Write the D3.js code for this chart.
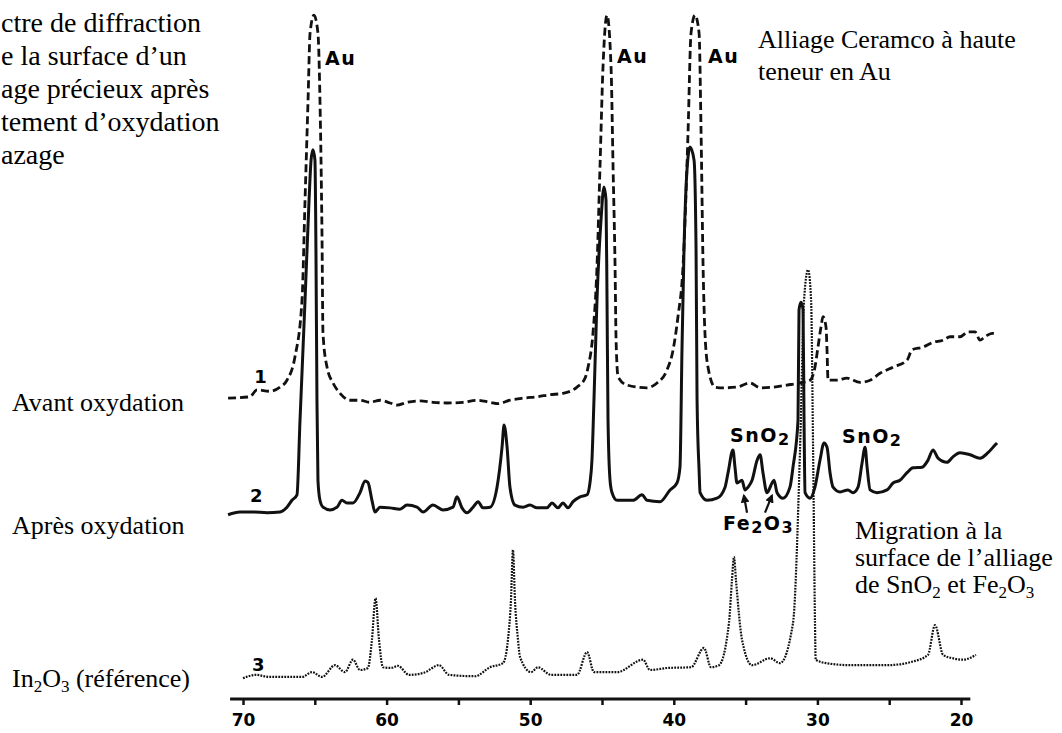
<html>
<head>
  <meta charset="utf-8">
  <style type="text/css">
    body { margin: 0; background: #fff; }
    svg { display: block; background: #fff; }
    .serif { font-family: 'Liberation Serif', 'Times New Roman', serif; fill: #000; }
    .lab { font-family: 'DejaVu Sans', sans-serif; font-weight: bold; fill: #000; }
  </style>
</head>
<body>
  <div id="viz"></div>
  <script src="https://cdnjs.cloudflare.com/ajax/libs/d3/7.8.5/d3.min.js"></script>
  <script>
  // 2theta (deg) / intensity (arbitrary units, traces stacked as in the figure)
  // 1 - avant oxydation (dashed)
  const avant = [
    [71.04,43.6],[69.51,43.8],[69.03,44.8],[68.12,44.6],[67.42,45.2],[66.94,46.2],[66.38,49.6],
    [65.89,57.8],[65.68,72.3],[65.47,86.8],[65.33,96.5],[65.06,99.1],[64.78,96.5],[64.64,86.8],
    [64.50,67.5],[64.43,53.0],[64.15,48.1],[63.73,45.8],[63.24,44.3],[62.55,43.3],[61.85,43.3],
    [61.16,43.0],[60.46,43.3],[59.76,42.9],[59.28,42.6],[58.58,43.0],[57.67,43.2],[56.77,43.0],
    [55.79,42.9],[54.68,43.0],[53.70,43.3],[52.80,43.0],[52.24,42.8],[51.41,43.3],[50.50,43.6],
    [49.53,43.8],[48.62,44.1],[47.72,44.3],[46.74,45.2],[46.18,46.5],[45.97,48.1],[45.63,53.0],
    [45.35,62.6],[45.14,77.1],[44.93,91.6],[44.65,99.1],[44.37,91.6],[44.23,77.1],[44.09,62.6],
    [44.02,52.0],[43.88,46.7],[43.26,45.5],[41.87,45.1],[41.17,45.8],[40.47,47.7],[40.05,50.6],
    [39.71,55.4],[39.36,62.6],[39.01,82.0],[38.80,96.5],[38.52,99.1],[38.24,96.5],[38.10,82.0],
    [37.96,62.6],[37.83,53.0],[37.62,48.1],[37.13,45.2],[36.57,45.1],[35.60,45.2],[34.69,45.8],
    [33.99,45.1],[33.09,45.2],[32.11,45.5],[31.21,45.8],[30.51,46.2],[30.17,48.1],[29.96,51.0],
    [29.75,53.9],[29.61,55.4],[29.40,53.9],[29.33,50.6],[29.26,46.2],[28.63,46.2],[27.94,46.5],
    [27.03,45.9],[26.33,46.2],[25.64,47.2],[24.73,48.1],[23.76,49.1],[23.41,50.6],[22.64,51.0],
    [21.95,51.7],[21.25,52.0],[20.76,52.5],[20.07,52.5],[19.51,53.2],[19.02,53.2],[18.68,52.0],
    [18.33,52.5],[17.84,53.0],[17.49,53.0]
  ];

  // 2 - après oxydation (solid)
  const apres = [
    [71.04,26.7],[70.21,27.1],[69.30,27.1],[68.33,27.0],[67.42,27.1],[66.94,27.8],[66.59,28.8],
    [66.24,29.6],[66.03,40.4],[65.68,57.8],[65.40,72.3],[65.26,78.1],[65.13,79.6],[64.99,78.1],
    [64.92,65.1],[64.85,43.3],[64.78,31.7],[64.64,28.8],[64.43,27.8],[63.94,27.4],[63.45,27.8],
    [63.11,28.8],[62.76,28.4],[62.34,28.4],[61.85,29.9],[61.50,31.6],[61.30,31.4],[61.02,28.8],
    [60.81,27.1],[60.46,27.8],[59.76,27.7],[59.07,27.5],[58.58,28.1],[57.88,27.8],[57.46,27.1],
    [56.77,28.1],[56.07,27.4],[55.38,27.8],[55.10,29.3],[54.75,27.7],[54.40,27.0],[53.98,27.8],
    [53.63,28.6],[53.29,27.7],[52.80,27.8],[52.31,30.7],[51.96,36.5],[51.82,39.7],[51.61,36.5],
    [51.41,30.7],[51.06,28.1],[50.50,27.8],[50.01,28.1],[49.53,27.7],[48.83,27.7],[48.48,28.4],
    [48.06,27.7],[47.72,28.4],[47.37,27.7],[47.02,28.6],[46.53,29.3],[46.04,29.6],[45.84,31.3],
    [45.70,34.6],[45.56,43.3],[45.35,57.8],[45.07,69.4],[44.86,74.2],[44.72,72.3],[44.65,57.8],
    [44.58,40.4],[44.44,31.7],[44.30,29.9],[43.95,28.8],[42.84,28.8],[42.21,29.6],[41.87,28.8],
    [40.96,28.6],[40.26,30.3],[39.78,31.3],[39.57,33.6],[39.43,50.6],[39.29,65.1],[39.08,76.7],
    [38.87,80.0],[38.59,78.1],[38.45,65.1],[38.38,43.3],[38.24,33.2],[38.17,29.9],[37.69,28.8],
    [36.99,29.1],[36.43,30.7],[36.22,32.8],[35.88,36.1],[35.74,33.6],[35.60,31.3],[35.25,31.7],
    [35.04,30.3],[34.83,30.7],[34.55,31.7],[34.20,34.6],[33.99,35.4],[33.79,32.8],[33.51,29.9],
    [33.16,31.3],[33.02,31.7],[32.81,29.9],[32.39,29.1],[31.91,30.7],[31.70,33.6],[31.35,40.4],
    [31.28,56.4],[31.14,57.5],[31.00,56.4],[30.93,40.4],[30.86,29.9],[30.51,29.1],[30.17,30.7],
    [29.82,34.6],[29.54,37.1],[29.33,36.5],[29.12,32.8],[28.91,30.7],[28.42,30.0],[27.87,30.3],
    [27.52,29.9],[27.17,30.7],[26.89,34.2],[26.68,36.5],[26.54,33.6],[26.33,30.3],[25.85,29.9],
    [25.15,30.3],[24.73,31.3],[24.25,31.7],[23.76,32.8],[23.34,33.5],[22.71,33.6],[22.30,34.6],
    [21.95,36.1],[21.60,34.9],[20.97,34.3],[20.56,35.1],[20.07,35.7],[19.37,35.4],[18.68,34.9],
    [18.12,35.7],[17.63,36.8],[17.49,37.1]
  ];

  // 3 - In2O3 reference (dotted)
  const reference = [
    [70.00,3.0],[69.09,3.5],[68.19,3.2],[66.94,3.2],[65.89,3.2],[65.19,3.9],[64.50,3.2],
    [63.59,4.9],[62.90,3.9],[62.34,5.7],[61.85,4.2],[61.30,4.5],[61.02,8.6],[60.77,14.6],
    [60.53,8.6],[60.25,4.6],[59.69,4.5],[59.21,4.8],[58.44,3.5],[57.40,3.8],[56.35,4.9],
    [55.65,3.5],[53.84,3.3],[52.80,4.6],[51.89,5.2],[51.55,8.6],[51.34,14.3],[51.20,21.6],
    [51.06,14.3],[50.85,8.6],[50.71,6.1],[49.94,3.9],[49.46,4.6],[48.55,3.5],[46.74,3.5],
    [46.04,6.8],[45.56,3.9],[43.95,3.9],[42.14,5.7],[41.66,4.2],[40.40,4.5],[38.80,4.6],
    [37.90,7.4],[37.41,4.6],[36.85,4.9],[36.16,11.0],[35.95,17.2],[35.81,20.6],[35.67,17.2],
    [35.25,8.6],[34.55,4.9],[33.30,5.9],[32.60,5.2],[31.70,11.0],[31.21,36.1],[30.93,57.8],
    [30.65,62.2],[30.44,57.8],[30.30,36.1],[30.17,11.4],[30.12,5.7],[29.40,5.2],[27.66,4.9],
    [25.15,4.9],[23.41,5.4],[22.30,6.4],[21.81,10.7],[21.25,6.4],[20.56,5.9],[19.86,5.7],
    [18.96,6.4]
  ];

  // axis
  const tickVals = [70, 65, 60, 55, 50, 45, 40, 35, 30, 25, 20];
  const axisExtent = [70.9, 19.35];

  // peak labels [text, 2theta, intensity]
  const peakLabels = [
    ['Au', 64.29, 91.9], ['Au', 43.95, 92.2], ['Au', 37.62, 92.2],
    ['SnO2', 36.08, 37.2], ['SnO2', 28.29, 37.1], ['Fe2O3', 36.57, 24.5]
  ];
  const traceNumbers = [['1', 69.22, 45.8], ['2', 69.51, 28.6], ['3', 69.37, 4.1]];
  // Fe2O3 arrows [from theta, from I, to theta, to I]
  const feArrows = [[34.90, 27.0, 35.12, 29.5], [33.65, 27.0, 33.16, 29.5]];

  const width = 1062, height = 733;

  const x = d3.scaleLinear().domain([70, 20]).range([243, 961]);
  const y = d3.scaleLinear().domain([0, 100]).range([699, 9]);

  const svg = d3.select('#viz').append('svg')
    .attr('width', width)
    .attr('height', height);

  const line = d3.line()
    .x(d => x(d[0]))
    .y(d => y(d[1]))
    .curve(d3.curveMonotoneX);

  // traces
  svg.append('path').datum(reference)
    .attr('d', line)
    .attr('fill', 'none')
    .attr('stroke', '#111')
    .attr('stroke-width', 2.2)
    .attr('stroke-dasharray', '1.8,1.2');

  svg.append('path').datum(avant)
    .attr('d', line)
    .attr('fill', 'none')
    .attr('stroke', '#111')
    .attr('stroke-width', 2.8)
    .attr('stroke-dasharray', '8,4');

  svg.append('path').datum(apres)
    .attr('d', line)
    .attr('fill', 'none')
    .attr('stroke', '#111')
    .attr('stroke-width', 3)
    .attr('stroke-linejoin', 'round');

  // x axis (2theta, decreasing)
  const xAxis = d3.axisBottom(x)
    .tickValues(tickVals)
    .tickSize(6)
    .tickPadding(9)
    .tickFormat(d => d % 10 === 0 ? d : '');

  const axisG = svg.append('g')
    .attr('transform', 'translate(0,' + y(0) + ')')
    .call(xAxis);
  axisG.select('.domain').remove();
  axisG.selectAll('.tick line').attr('stroke', '#111').attr('stroke-width', 2.5);
  axisG.selectAll('.tick text')
    .attr('class', 'lab')
    .style('font-size', '17px')
    .style('font-family', 'DejaVu Sans, sans-serif')
    .style('font-weight', 'bold')
    .attr('fill', '#111');
  axisG.append('line')
    .attr('x1', x(axisExtent[0])).attr('x2', x(axisExtent[1]))
    .attr('y1', 0).attr('y2', 0)
    .attr('stroke', '#111')
    .attr('stroke-width', 3);

  // text helper: digits become subscripts
  const rich = (sel, str, subSize, shift) => {
    let down = false;
    str.split(/(\d)/).filter(s => s.length).forEach(p => {
      const isSub = /^\d$/.test(p);
      const t = sel.append('tspan').text(p);
      if (isSub) {
        t.style('font-size', subSize);
        if (!down) { t.attr('dy', shift); down = true; }
      } else if (down) {
        t.attr('dy', -shift); down = false;
      }
    });
  };

  // peak labels
  peakLabels.forEach(p => {
    const t = svg.append('text')
      .attr('class', 'lab')
      .attr('x', x(p[1]))
      .attr('y', y(p[2]))
      .style('font-size', '19px')
      .style('letter-spacing', '1.5px');
    rich(t, p[0], '16px', 3);
  });

  traceNumbers.forEach(p => {
    svg.append('text')
      .attr('class', 'lab')
      .attr('x', x(p[1]))
      .attr('y', y(p[2]))
      .style('font-size', '18px')
      .text(p[0]);
  });

  // arrows to Fe2O3 peaks
  svg.append('defs').append('marker')
    .attr('id', 'head')
    .attr('viewBox', '0 0 10 10')
    .attr('refX', 8).attr('refY', 5)
    .attr('markerWidth', 4).attr('markerHeight', 4)
    .attr('orient', 'auto')
    .append('path').attr('d', 'M0,0L10,5L0,10z').attr('fill', '#111');

  feArrows.forEach(a => {
    svg.append('line')
      .attr('x1', x(a[0])).attr('y1', y(a[1]))
      .attr('x2', x(a[2])).attr('y2', y(a[3]))
      .attr('stroke', '#111')
      .attr('stroke-width', 2.2)
      .attr('marker-end', 'url(#head)');
  });

  // title block: only the part that shows in the original (its left side is cut off)
  const titleLines = ['ctre de diffraction', 'e la surface d\u2019un', 'age précieux après',
    'tement d\u2019oxydation', 'azage'];
  titleLines.forEach((s, i) => {
    svg.append('text')
      .attr('class', 'serif')
      .attr('x', 1)
      .attr('y', 32 + i * 33)
      .style('font-size', '28px')
      .text(s);
  });

  const note = (str, px, py, size) => {
    const t = svg.append('text')
      .attr('class', 'serif')
      .attr('x', px).attr('y', py)
      .style('font-size', size + 'px');
    rich(t, str, Math.round(size * 0.65) + 'px', 5);
  };

  note('Alliage Ceramco à haute', 758, 48, 26);
  note('teneur en Au', 758, 80, 26);

  note('Avant oxydation', 12, 411, 26);
  note('Après oxydation', 12, 534, 26);
  note('In2O3 (référence)', 12, 687, 26);

  note('Migration à la', 855, 539, 26);
  note('surface de l\u2019alliage', 855, 566, 26);
  note('de SnO2 et Fe2O3', 855, 593, 26);
  </script>
</body>
</html>
